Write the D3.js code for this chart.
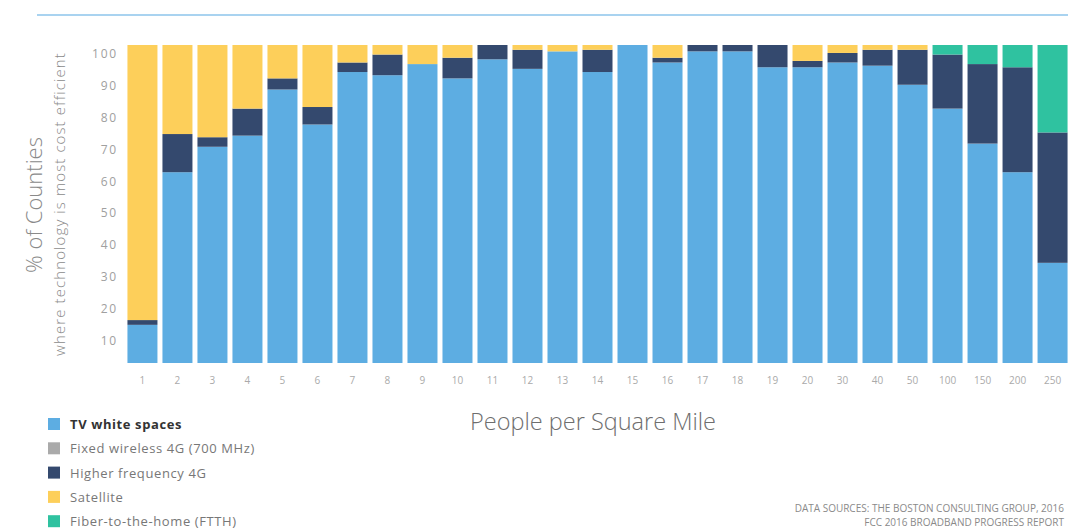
<!DOCTYPE html>
<html>
<head>
<meta charset="utf-8">
<script src="https://d3js.org/d3.v7.min.js"></script>
<style>
  body { margin: 0; background: #fff; }
  svg { display: block; font-family: "Open Sans", "Noto Sans", sans-serif; }
</style>
</head>
<body>
<script>
// people per square mile buckets
const categories = ["1","2","3","4","5","6","7","8","9","10","11","12","13","14","15","16","17","18","19","20","30","40","50","100","150","200","250"];

// % of counties per technology (bottom to top)
const tvWhiteSpaces = [12, 60, 68, 71.5, 86, 75, 91.5, 90.5, 94, 89.5, 95.5, 92.5, 98, 91.5, 100, 94.5, 98, 98, 93, 93, 94.5, 93.5, 87.5, 80, 69, 60, 31.5];
const fixedWireless = [0, 0, 0, 0, 0, 0, 0, 0, 0, 0, 0, 0, 0, 0, 0, 0, 0, 0, 0, 0, 0, 0, 0, 0, 0, 0, 0];
const higherFreq4G  = [1.5, 12, 3, 8.5, 3.5, 5.5, 3, 6.5, 0, 6.5, 4.5, 6, 0, 7, 0, 1.5, 2, 2, 7, 2, 3, 5, 11, 17, 25, 33, 41];
const satellite     = [86.5, 28, 29, 20, 10.5, 19.5, 5.5, 3, 6, 4, 0, 1.5, 2, 1.5, 0, 4, 0, 0, 0, 5, 2.5, 1.5, 1.5, 0, 0, 0, 0];
const ftth          = [0, 0, 0, 0, 0, 0, 0, 0, 0, 0, 0, 0, 0, 0, 0, 0, 0, 0, 0, 0, 0, 0, 0, 3, 6, 7, 27.5];

const yTicks = [10, 20, 30, 40, 50, 60, 70, 80, 90, 100];

const seriesNames = ["TV white spaces", "Fixed wireless 4G (700 MHz)", "Higher frequency 4G", "Satellite", "Fiber-to-the-home  (FTTH)"];
const seriesKeys = ["tv", "fixed", "hf", "sat", "ftth"];
const colors = ["#5dade2", "#aaaaaa", "#34496e", "#fdcf5a", "#2fc2a0"];

const rows = categories.map((c, i) => ({
    cat: c,
    tv: tvWhiteSpaces[i],
    fixed: fixedWireless[i],
    hf: higherFreq4G[i],
    sat: satellite[i],
    ftth: ftth[i]
}));

const width = 1068, height = 531;

const svg = d3.select("body")
    .append("svg")
    .attr("width", width)
    .attr("height", height);

// top rule
svg.append("line")
    .attr("x1", 37).attr("x2", width)
    .attr("y1", 15).attr("y2", 15)
    .attr("stroke", "#a9d3f0")
    .attr("stroke-width", 2);

const xScale = d3.scaleBand()
    .domain(categories)
    .range([125, 1070])
    .paddingInner(0.143)
    .paddingOuter(0.07);

const yScale = d3.scaleLinear()
    .domain([0, 100])
    .range([363, 45]);

const stacked = d3.stack().keys(seriesKeys)(rows);

svg.append("g")
    .selectAll("g")
    .data(stacked)
    .enter()
    .append("g")
    .attr("fill", (d, i) => colors[i])
    .selectAll("rect")
    .data(d => d)
    .enter()
    .append("rect")
    .attr("x", d => xScale(d.data.cat))
    .attr("y", d => yScale(d[1]))
    .attr("width", xScale.bandwidth())
    .attr("height", d => yScale(d[0]) - yScale(d[1]));

// y axis (labels only)
const yAxis = svg.append("g")
    .attr("transform", "translate(118,0)")
    .call(d3.axisLeft(yScale).tickValues(yTicks).tickSize(0).tickPadding(0));
yAxis.select(".domain").remove();
yAxis.selectAll("text")
    .attr("dy", "0.32em")
    .attr("transform", "translate(0,9)")
    .attr("fill", "#a0a0a0")
    .style("font-size", "12px")
    .style("letter-spacing", "1.8px")
    .style("font-family", "Open Sans, sans-serif");

// x axis (labels only)
const xAxis = svg.append("g")
    .attr("transform", "translate(0,381)")
    .call(d3.axisBottom(xScale).tickSize(0).tickPadding(0));
xAxis.select(".domain").remove();
xAxis.selectAll("text")
    .attr("dy", "0.32em")
    .attr("fill", "#aaaaaa")
    .style("font-size", "10px")
    .style("font-family", "Open Sans, sans-serif");

// axis titles
svg.append("text")
    .attr("transform", "translate(42,205) rotate(-90)")
    .attr("text-anchor", "middle")
    .attr("fill", "#8a8a8a")
    .style("font-size", "22px")
    .style("font-weight", 300)
    .text("% of Counties");

svg.append("text")
    .attr("transform", "translate(65,204) rotate(-90)")
    .attr("text-anchor", "middle")
    .attr("fill", "#8a8a8a")
    .style("font-size", "15px")
    .style("letter-spacing", "1.1px")
    .style("font-weight", 300)
    .text("where technology is most cost efficient");

svg.append("text")
    .attr("x", 593)
    .attr("y", 430)
    .attr("text-anchor", "middle")
    .attr("fill", "#6e6e6e")
    .style("font-size", "23.5px")
    .style("font-weight", 300)
    .text("People per Square Mile");

// legend
const legend = svg.append("g")
    .selectAll("g")
    .data(seriesNames)
    .enter()
    .append("g")
    .attr("transform", (d, i) => `translate(48,${418 + i * 24.3})`);

legend.append("rect")
    .attr("width", 12)
    .attr("height", 12)
    .attr("fill", (d, i) => colors[i]);

legend.append("text")
    .attr("x", 22)
    .attr("y", 11)
    .attr("fill", (d, i) => i === 0 ? "#333" : "#777")
    .style("font-size", "13px")
    .style("letter-spacing", "0.6px")
    .style("font-weight", (d, i) => i === 0 ? 700 : 400)
    .text(d => d);

// sources
const src = svg.append("g")
    .attr("fill", "#8a8a8a")
    .style("font-size", "10px")
    .attr("text-anchor", "end");
src.append("text").attr("x", 1064).attr("y", 512).text("DATA SOURCES: THE BOSTON CONSULTING GROUP, 2016");
src.append("text").attr("x", 1064).attr("y", 526).text("FCC 2016 BROADBAND PROGRESS REPORT");
</script>
</body>
</html>
